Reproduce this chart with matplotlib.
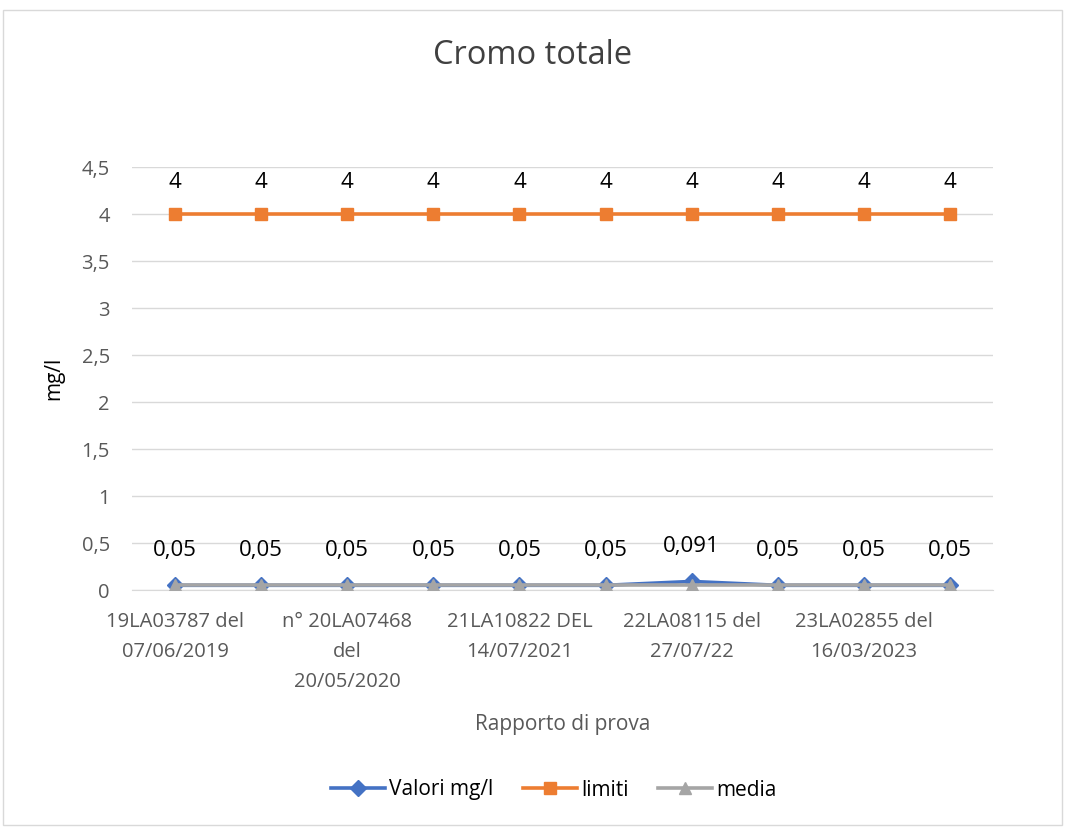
import matplotlib
matplotlib.use("Agg")
import matplotlib.pyplot as plt
from matplotlib.patches import Rectangle
import numpy as np

plt.rcParams['font.family'] = ['Open Sans', 'DejaVu Sans']

categories = ["19LA03787 del\n07/06/2019", "", "n° 20LA07468\ndel\n20/05/2020", "",
              "21LA10822 DEL\n14/07/2021", "", "22LA08115 del\n27/07/22", "",
              "23LA02855 del\n16/03/2023", ""]
valori = [0.05, 0.05, 0.05, 0.05, 0.05, 0.05, 0.091, 0.05, 0.05, 0.05]
limiti = [4, 4, 4, 4, 4, 4, 4, 4, 4, 4]
media = [0.0541] * 10
yticks = [0, 0.5, 1, 1.5, 2, 2.5, 3, 3.5, 4, 4.5]

def fmt(v):
    s = ("%g" % v).replace(".", ",")
    return s

fig = plt.figure(figsize=(10.65, 8.27), dpi=100)
fig.patches.append(Rectangle((3/1065, 1 - 825/827), 1059/1065, 815/827,
                             transform=fig.transFigure, fill=False,
                             edgecolor="#d9d9d9", linewidth=1))
ax = fig.add_axes([132/1065, 1 - 590/827, 861/1065, 423/827])
x = np.arange(len(categories))

ax.plot(x, valori, color="#4472c4", lw=2.6, marker="D", ms=8, zorder=3, label="Valori mg/l")
ax.plot(x, limiti, color="#ed7d31", lw=2.6, marker="s", ms=9, zorder=3, label="limiti")
ax.plot(x, media, color="#a5a5a5", lw=2.6, marker="^", ms=9, zorder=4, label="media")

for xi, v in zip(x, limiti):
    ax.annotate(fmt(v), (xi, v), xytext=(0, 23), textcoords="offset points",
                ha="center", va="center", fontsize=16, color="#000000")
for xi, v in zip(x, valori):
    ax.annotate(fmt(v), (xi, v), xytext=(0, 25), textcoords="offset points",
                ha="center", va="center", fontsize=16, color="#000000")

ax.set_xlim(-0.5, 9.5)
ax.set_ylim(0, 4.5)
ax.set_yticks(yticks)
ax.set_yticklabels([fmt(t) for t in yticks])
ax.set_xticks(x[::2])
ax.set_xticklabels(categories[::2], linespacing=1.65)
ax.tick_params(axis="both", length=0, labelsize=14.5, colors="#595959")
ax.tick_params(axis="x", pad=16)
ax.tick_params(axis="y", pad=16)
ax.grid(axis="y", color="#d9d9d9", lw=1)
ax.set_axisbelow(True)
for s in ["top", "right", "left"]:
    ax.spines[s].set_visible(False)
ax.spines["bottom"].set_color("#d9d9d9")

ax.set_xlabel("Rapporto di prova", fontsize=15, color="#595959", labelpad=16)
ax.set_ylabel("mg/l", fontsize=15, color="#000000", labelpad=12)
fig.text(0.5, 1 - 55/827, "Cromo totale", ha="center", va="center", fontsize=23.5, color="#404040")

fig.legend(loc="center", bbox_to_anchor=(0.52, 1 - 790/827), ncol=3, frameon=False,
           fontsize=15, handlelength=2.6, columnspacing=1.4, handletextpad=0.2,
           labelcolor="#000000")

fig.savefig("out.png", dpi=100)
